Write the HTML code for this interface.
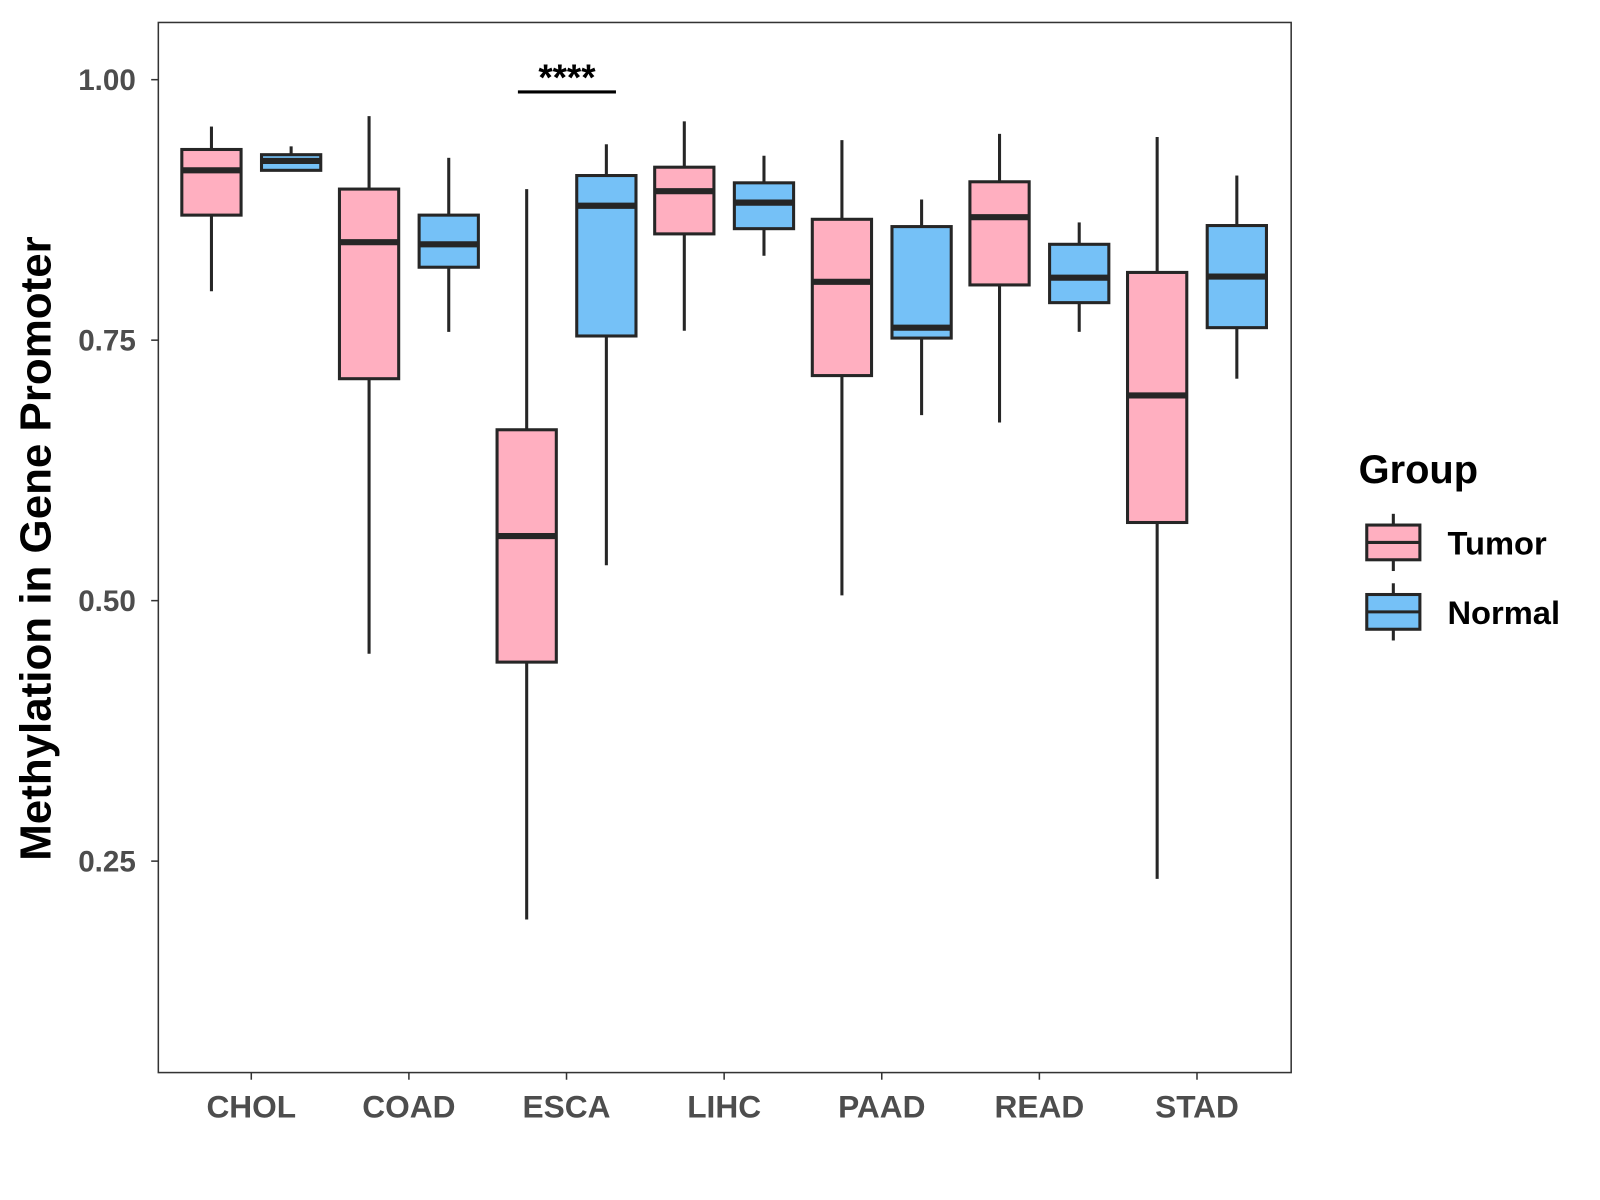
<!DOCTYPE html>
<html><head><meta charset="utf-8"><style>
html,body{margin:0;padding:0;background:#fff;}
svg{display:block;font-family:"Liberation Sans",Arial,sans-serif;}
</style></head><body>
<svg id="chart" width="1600" height="1200" viewBox="0 0 1600 1200">
<rect x="0" y="0" width="1600" height="1200" fill="#fff"/>
<g id="root" transform="scale(1.0215)">
<rect x="155" y="22" width="1109" height="1028" fill="none" stroke="#333" stroke-width="1.5"/>
<g id="marks"></g>
<text x="38" y="537" transform="rotate(-90 38 537)" text-anchor="middle" font-size="43" font-weight="bold" fill="#000" dominant-baseline="middle">Methylation in Gene Promoter</text>
<g>
<line x1="507" y1="90" x2="603" y2="90" stroke="#000" stroke-width="3"/>
<text x="555" y="88" text-anchor="middle" font-size="36" font-weight="bold" fill="#000">****</text>
</g>
<g>
<text x="1330" y="473" font-size="39" font-weight="bold" fill="#000">Group</text>
<g>
<line x1="1364" y1="503" x2="1364" y2="559" stroke="#262626" stroke-width="3"/>
<rect x="1338" y="514" width="52" height="34" fill="#ffafc0" stroke="#262626" stroke-width="3"/>
<line x1="1338" y1="531" x2="1390" y2="531" stroke="#262626" stroke-width="3"/>
<text x="1417" y="543" font-size="32" font-weight="bold" fill="#000">Tumor</text>
</g>
<g>
<line x1="1364" y1="571" x2="1364" y2="627" stroke="#262626" stroke-width="3"/>
<rect x="1338" y="582" width="52" height="34" fill="#75c1f7" stroke="#262626" stroke-width="3"/>
<line x1="1338" y1="599" x2="1390" y2="599" stroke="#262626" stroke-width="3"/>
<text x="1417" y="611" font-size="32" font-weight="bold" fill="#000">Normal</text>
</g>
</g>
</g>
</svg>
<script>
const categories = ["CHOL","COAD","ESCA","LIHC","PAAD","READ","STAD"];
const yTicks = [0.25,0.50,0.75,1.00];
const yTickLabels = ["0.25","0.50","0.75","1.00"];
// [lowWhisker, q1, median, q3, highWhisker]
const tumorStats = [
 [0.797,0.870,0.913,0.933,0.955],
 [0.449,0.713,0.844,0.895,0.965],
 [0.194,0.441,0.562,0.664,0.895],
 [0.759,0.852,0.893,0.916,0.960],
 [0.505,0.716,0.806,0.866,0.942],
 [0.671,0.803,0.868,0.902,0.948],
 [0.233,0.575,0.697,0.815,0.945]
];
const normalStats = [
 [0.913,0.913,0.922,0.928,0.936],
 [0.758,0.820,0.842,0.870,0.925],
 [0.534,0.754,0.879,0.908,0.938],
 [0.831,0.857,0.882,0.901,0.927],
 [0.678,0.752,0.762,0.859,0.885],
 [0.758,0.786,0.810,0.842,0.863],
 [0.713,0.762,0.811,0.860,0.908]
];
const NS="http://www.w3.org/2000/svg";
const root=document.getElementById('root');
const g=document.getElementById('marks');
function yScale(v){return 78+(1-v)*1020;}
function xScale(i){return 246+i*154.3;}
function el(tag,attrs,parent){const e=document.createElementNS(NS,tag);for(const k in attrs)e.setAttribute(k,attrs[k]);(parent||g).appendChild(e);return e;}
yTicks.forEach((t,i)=>{
 const y=yScale(t);
 const tk=el('line',{x1:148,y1:y,x2:155,y2:y,stroke:'#333','stroke-width':1.5},root);
 
 
 const tx=el('text',{x:133,y:y+10,'text-anchor':'end','font-size':29,'font-weight':'bold',fill:'#4d4d4d'},root);
 tx.textContent=yTickLabels[i];
 
 
});
categories.forEach((c,i)=>{
 const x=xScale(i);
 const tk=el('line',{x1:x,y1:1050,x2:x,y2:1057,stroke:'#333','stroke-width':1.5},root);
 
 
 const tx=el('text',{x:x,y:1094,'text-anchor':'middle','font-size':31,'font-weight':'bold',fill:'#4d4d4d'},root);
 tx.textContent=c;
 
 
});
function drawBox(cx,s,fill,name){
 const grp=el('g',{});
 
 
 const hw=29;
 el('line',{x1:cx,y1:yScale(s[4]),x2:cx,y2:yScale(s[3]),stroke:'#262626','stroke-width':3},grp);
 el('line',{x1:cx,y1:yScale(s[1]),x2:cx,y2:yScale(s[0]),stroke:'#262626','stroke-width':3},grp);
 el('rect',{x:cx-hw,y:yScale(s[3]),width:hw*2,height:Math.max(0,yScale(s[1])-yScale(s[3])),fill:fill,stroke:'#262626','stroke-width':3},grp);
 el('line',{x1:cx-hw,y1:yScale(s[2]),x2:cx+hw,y2:yScale(s[2]),stroke:'#262626','stroke-width':6},grp);
}
categories.forEach((c,i)=>{
 drawBox(xScale(i)-39,tumorStats[i],'#ffafc0','box-tumor-'+c.toLowerCase());
 drawBox(xScale(i)+39,normalStats[i],'#75c1f7','box-normal-'+c.toLowerCase());
});
</script>
</body></html>
